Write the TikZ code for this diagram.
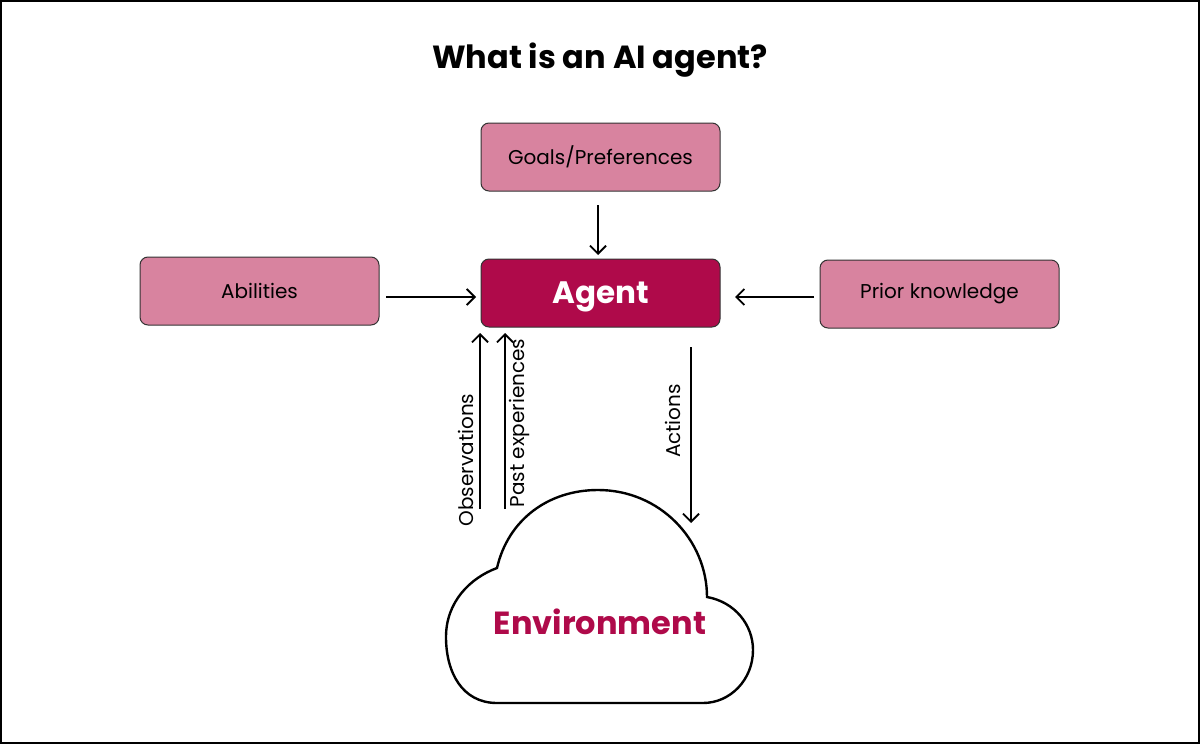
\documentclass[tikz,border=0pt]{standalone}
\usepackage{fontspec}
\setmainfont{Poppins}
\usetikzlibrary{arrows.meta}
\definecolor{lightpink}{HTML}{D8839F}
\definecolor{darkpink}{HTML}{AF0A4A}
\begin{document}
\begin{tikzpicture}[x=0.5pt,y=-0.5pt,
  pinkbox/.style={draw=black!80,line width=0.5pt,fill=lightpink,rounded corners=4pt,minimum width=119.5pt,minimum height=34pt,font=\fontsize{10}{12}\selectfont,text=black},
  agentbox/.style={pinkbox,fill=darkpink,text=white,font=\fontsize{15.5}{18}\selectfont\bfseries,text depth=0pt},
  conn/.style={line width=0.9pt,-{Straight Barb[length=4pt,width=8pt,line width=0.9pt]}},
  vlabel/.style={rotate=90,font=\fontsize{10}{12}\selectfont}]
\useasboundingbox (0,0) rectangle (1200,744);
\draw[line width=1pt] (1,1) rectangle (1199,743);
\node[font=\fontsize{16}{19}\selectfont\bfseries] (title) at (600,60) {What is an AI agent?};
\node[pinkbox] (goals) at (600.5,157) {Goals/Preferences};
\node[agentbox] (agent) at (600.5,293) {Agent};
\node[pinkbox] (abil) at (259.5,291) {Abilities};
\node[pinkbox] (prior) at (939.5,294) {Prior knowledge};
% cloud
\draw[line width=1.2pt,fill=white] (497,703) .. controls (462,703) and (446,672) .. (446,637)
  .. controls (446,602) and (470,578) .. (497,568)
  .. controls (508,520) and (548,490) .. (598,490)
  .. controls (660,490) and (707,540) .. (707,597)
  .. controls (735,602) and (753,625) .. (753,650)
  .. controls (753,680) and (730,703) .. (703,703) -- cycle;
\node[text=darkpink,font=\fontsize{16}{19}\selectfont\bfseries] (env) at (600,622) {Environment};
\coordinate (gs) at (598,205);
\coordinate (ge) at (598,255);
\draw[conn] (gs) -- (ge);
\coordinate (as) at (386,297);
\coordinate (ae) at (476,297);
\draw[conn] (as) -- (ae);
\coordinate (ps) at (814,297);
\coordinate (pe) at (735,297);
\draw[conn] (ps) -- (pe);
\coordinate (os) at (480,509);
\coordinate (oe) at (480,333);
\draw[conn] (os) -- (oe);
\coordinate (xs) at (505,509);
\coordinate (xe) at (505,333);
\draw[conn] (xs) -- (xe);
\coordinate (cs) at (691,347);
\coordinate (ce) at (691,523);
\draw[conn] (cs) -- (ce);
\node[vlabel] (obs) at (466,460) {Observations};
\node[vlabel] (past) at (519,423) {Past experiences};
\node[vlabel] (act) at (673,421) {Actions};
\end{tikzpicture}
\end{document}
